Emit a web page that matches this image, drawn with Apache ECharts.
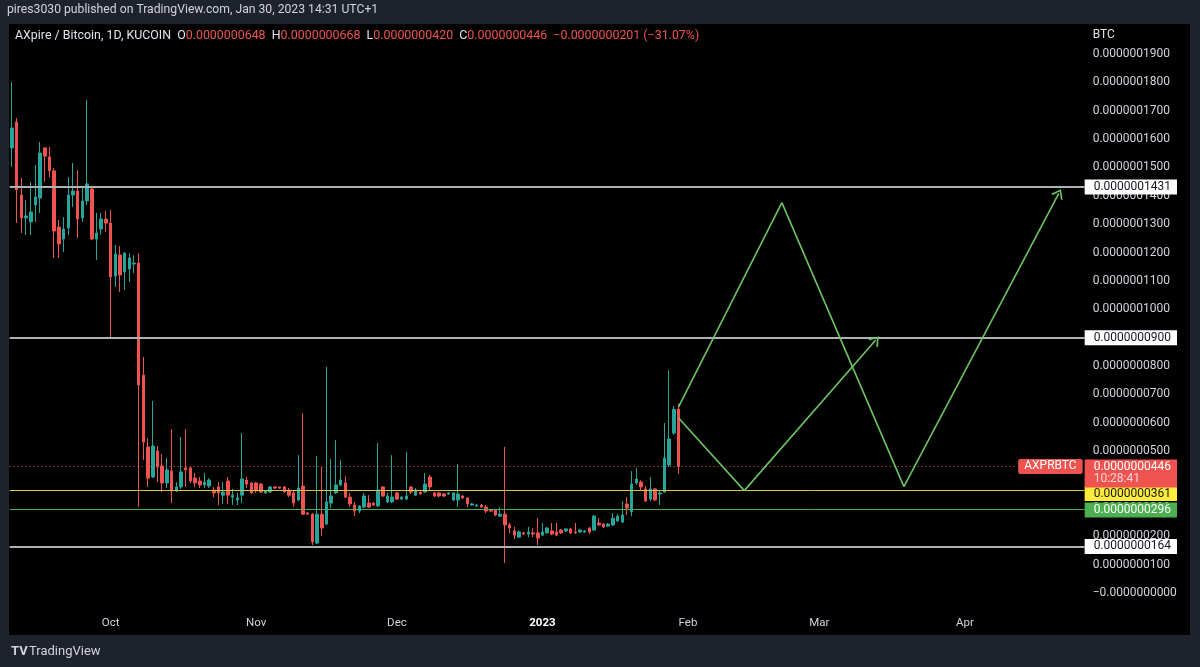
<!DOCTYPE html>
<html>
<head>
<meta charset="utf-8">
<title>AXPRBTC</title>
<script src="https://cdn.jsdelivr.net/npm/echarts@6/dist/echarts.min.js"></script>
<style>
html, body { margin: 0; padding: 0; background: #1e222b; }
#chart { width: 1200px; height: 667px; }
</style>
</head>
<body>
<div id="chart"></div>
<script>
// all prices are in units of 0.0000000001 BTC
const startDate = '2022-09-10';
const dayCount = 229; // axis runs on past the last candle to leave room for the drawings

const opens = [
  1569,1660,1403,1322,1308,1368,1392,1569,1537,1488,
  1290,1248,1287,1403,1417,1322,1382,1424,1248,1283,
  1318,1304,1117,1191,1132,1142,1160,1163,768,515,
  409,501,448,388,430,360,374,441,441,405,
  395,381,377,363,374,345,395,338,328,345,
  398,388,388,384,353,356,374,374,374,363,
  353,328,377,282,278,176,278,243,317,353,
  381,388,338,310,289,303,317,317,307,374,
  321,321,353,331,331,374,345,355,356,409,
  353,353,349,349,328,328,342,335,310,307,
  310,303,293,293,271,278,240,219,197,212,
  208,212,212,204,212,219,215,222,219,226,
  215,215,215,229,222,247,243,236,240,254,
  250,314,286,388,391,367,331,367,349,356,
  451,564,648
];
const closes = [
  1639,1421,1322,1329,1343,1396,1551,1540,1488,1276,
  1230,1283,1403,1417,1318,1382,1442,1248,1269,1318,
  1304,1114,1195,1121,1198,1181,1163,733,532,405,
  518,444,388,434,360,374,427,434,395,388,
  381,391,398,353,353,356,345,345,335,402,
  384,353,360,356,360,374,370,370,356,345,
  317,370,278,278,180,278,229,321,342,381,
  398,338,314,289,307,342,303,310,363,342,
  342,338,331,338,342,356,363,350,384,374,
  342,342,342,353,353,349,335,314,314,310,
  303,289,289,275,278,240,229,204,215,208,
  215,208,194,215,229,208,204,212,226,212,
  212,222,219,215,271,240,233,243,264,271,
  275,300,384,402,374,324,367,328,353,476,
  543,647,446
];
const lows = [
  1502,1304,1269,1262,1262,1308,1340,1449,1466,1181,
  1181,1202,1262,1361,1251,1308,1368,1244,1174,1262,
  1273,902,1079,1061,1068,1096,1128,303,469,374,
  405,391,356,370,317,356,367,374,388,374,
  370,370,370,338,310,314,314,310,310,317,
  370,349,353,353,349,353,367,367,353,338,
  303,324,275,275,169,173,201,240,300,349,
  377,335,303,271,282,300,300,307,303,338,
  317,317,328,328,328,349,342,346,353,360,
  338,338,338,346,324,303,331,303,307,303,
  300,282,285,271,268,106,212,190,195,204,
  197,197,169,201,210,204,201,208,215,208,
  208,212,212,208,219,236,229,233,236,250,
  247,275,271,381,363,321,324,324,310,353,
  444,557,420
];
const highs = [
  1801,1674,1463,1385,1449,1509,1590,1572,1572,1498,
  1315,1325,1466,1516,1491,1428,1738,1431,1340,1340,
  1347,1350,1227,1223,1202,1198,1191,1198,832,546,
  677,518,490,476,578,391,550,578,444,423,
  409,423,405,374,391,391,409,367,353,564,
  409,391,391,388,363,377,377,374,377,370,
  363,486,634,285,282,483,444,797,472,539,
  469,412,353,321,310,353,345,321,529,377,
  353,486,356,342,497,377,370,358,423,416,
  356,356,353,356,356,455,345,338,317,314,
  314,310,296,296,303,515,247,233,222,215,
  233,229,264,247,233,247,247,226,229,229,
  247,226,222,233,275,264,247,247,282,278,
  324,338,430,441,398,377,409,370,363,599,
  786,659,668
];

const tickDates = ['2022-10-01', '2022-11-01', '2022-12-01', '2023-01-01', '2023-02-01', '2023-03-01', '2023-04-01'];
const tickLabels = ['Oct', 'Nov', 'Dec', '2023', 'Feb', 'Mar', 'Apr'];

// horizontal levels drawn on the chart
const whiteLevels = [1431, 900, 164];
const yellowLevel = 361;
const greenLevel = 296;

// the two projected paths (green arrows)
const pathADates = ['2023-01-30', '2023-02-21', '2023-03-19', '2023-04-21'];
const pathAValues = [656, 1376, 375, 1409];
const pathBDates = ['2023-01-30', '2023-02-13', '2023-03-13'];
const pathBValues = [617, 361, 892];

const FONT = 'Roboto, sans-serif';
const UP = '#26a69a', DOWN = '#ef5350';

const categories = [];
for (let i = 0; i < dayCount; i++) {
  const p = startDate.split('-').map(Number);
  categories.push(new Date(Date.UTC(p[0], p[1] - 1, p[2] + i)).toISOString().slice(0, 10));
}

function fmt(v) {
  if (v === 0) return '\u22120.0000000000';
  return (v / 1e10).toFixed(10).replace('-', '\u2212');
}

const candles = opens.map((o, i) => [o, closes[i], lows[i], highs[i]]);
const n = opens.length;
const lastO = opens[n - 1], lastC = closes[n - 1], lastH = highs[n - 1], lastL = lows[n - 1];
const change = lastC - closes[n - 2];
const pct = (change / closes[n - 2] * 100).toFixed(2).replace('-', '\u2212');

const ohlcText = '{w|AXpire / Bitcoin, 1D, KUCOIN}  ' +
  '{w|O}{r|' + fmt(lastO) + '}  {w|H}{r|' + fmt(lastH) + '}  ' +
  '{w|L}{r|' + fmt(lastL) + '}  {w|C}{r|' + fmt(lastC) + '}  ' +
  '{r|' + fmt(change) + ' (' + pct + '%)}';

function levelLine(value, lineColor, width, boxColor, textColor, dy) {
  return {
    yAxis: value,
    lineStyle: { color: lineColor, width: width, type: 'solid' },
    label: {
      show: true, position: 'end', distance: 0,
      formatter: fmt(value),
      backgroundColor: boxColor, color: textColor,
      fontFamily: FONT, fontSize: 12, lineHeight: 13,
      padding: [1, 6, 1, 9], offset: [0, dy]
    }
  };
}

const green = '#6cc462';
const arrowPath = 'path://M0,9.5 L5,0 L10,9.5 L8.6,10 L5,2.8 L1.4,10 Z';
function pathSegments(dates, values) {
  const segs = [];
  for (let i = 0; i < dates.length - 1; i++) {
    const last = i === dates.length - 2;
    segs.push([
      { coord: [categories.indexOf(dates[i]), values[i]], symbol: 'none' },
      { coord: [categories.indexOf(dates[i + 1]), values[i + 1]],
        symbol: last ? arrowPath : 'none', symbolSize: [13, 9] }
    ]);
  }
  return segs;
}

const markData = [];
whiteLevels.forEach(v => markData.push(levelLine(v, '#aeb1b6', 2, '#ffffff', '#131722', 0)));
markData.push(levelLine(yellowLevel, '#d8c63c', 1, '#ffeb3b', '#131722', 3));
markData.push(levelLine(greenLevel, '#4caf50', 1, '#4caf50', '#ffffff', 1));
markData.push({
  yAxis: lastC,
  lineStyle: { color: DOWN, width: 1, type: [1, 3] },
  label: {
    show: true, position: 'end', distance: 0,
    formatter: fmt(lastC) + '\n{t|10:28:41}',
    backgroundColor: DOWN, color: '#ffffff',
    fontFamily: FONT, fontSize: 12, lineHeight: 12,
    padding: [2, 6, 2, 9], verticalAlign: 'top', offset: [0, -7],
    rich: { t: { color: 'rgba(255,255,255,0.78)', fontFamily: FONT, fontSize: 12, lineHeight: 12 } }
  }
});
markData.push({
  yAxis: lastC,
  lineStyle: { color: 'rgba(0,0,0,0)', width: 0 },
  label: {
    show: true, position: 'insideEnd', distance: 2,
    formatter: 'AXPRBTC',
    backgroundColor: DOWN, color: '#ffffff', borderRadius: 2,
    fontFamily: FONT, fontSize: 12, lineHeight: 13, padding: [1, 6, 1, 6]
  }
});
const drawData = pathSegments(pathADates, pathAValues).concat(pathSegments(pathBDates, pathBValues));
drawData.forEach(seg => {
  seg[0].lineStyle = { color: green, width: 1.6, type: 'solid' };
  seg[0].label = { show: false };
});

const chart = echarts.init(document.getElementById('chart'), null, { renderer: 'canvas' });
chart.setOption({
  animation: false,
  backgroundColor: '#1e222b',
  textStyle: { fontFamily: FONT },
  title: [
    {
      text: 'pires3030 published on TradingView.com, Jan 30, 2023 14:31 UTC+1',
      left: 7, top: 4, padding: 0,
      textStyle: { color: '#d1d4dc', fontSize: 12.2, fontWeight: 'normal', fontFamily: FONT }
    },
    {
      text: ohlcText, left: 15, top: 30, padding: 0,
      textStyle: {
        color: '#d1d4dc', fontSize: 12.4, fontWeight: 'normal', fontFamily: FONT,
        rich: {
          w: { color: '#e0e3eb', fontSize: 12.4, fontFamily: FONT },
          r: { color: lastC >= lastO ? UP : DOWN, fontSize: 12.4, fontFamily: FONT }
        }
      }
    }
  ],
  graphic: [
    { type: 'rect', z: -10, silent: true, shape: { x: 9, y: 24, width: 1181, height: 611 }, style: { fill: '#000000' } },
    { type: 'text', left: 11, top: 645, silent: true,
      style: { text: 'TV', fill: '#d1d4dc', font: 'bold 13px ' + FONT } },
    { type: 'text', left: 29, top: 645, silent: true,
      style: { text: 'TradingView', fill: '#d1d4dc', font: '13px ' + FONT } }
  ],
  grid: { left: 9.65, top: 25.6, width: 1075, height: 595.8, containLabel: false },
  xAxis: {
    type: 'category',
    data: categories,
    boundaryGap: true,
    axisLine: { show: false },
    axisTick: { show: false },
    splitLine: { show: false },
    axisLabel: {
      interval: (idx, val) => tickDates.indexOf(val) >= 0,
      formatter: val => {
        const k = tickDates.indexOf(val);
        return k === 3 ? '{b|' + tickLabels[k] + '}' : tickLabels[k];
      },
      color: '#d1d4dc', fontSize: 11.5, fontFamily: FONT,
      verticalAlign: 'middle', margin: 2,
      rich: { b: { color: '#ffffff', fontWeight: 'bold', fontSize: 11.5, fontFamily: FONT } }
    }
  },
  yAxis: {
    type: 'value',
    position: 'right',
    min: -100, max: 2000, interval: 100,
    name: 'BTC', nameLocation: 'end', nameGap: -9.5,
    nameTextStyle: { color: '#e0e3eb', fontSize: 12, fontFamily: FONT, align: 'left', verticalAlign: 'middle', padding: [0, 0, 0, 8] },
    axisLine: { show: false },
    axisTick: { show: false },
    splitLine: { show: false },
    axisLabel: {
      margin: 8, showMinLabel: false, showMaxLabel: false,
      color: '#d1d4dc', fontSize: 12, fontFamily: FONT,
      formatter: fmt
    }
  },
  series: [
    {
      type: 'candlestick',
      name: 'AXPRBTC',
      data: candles,
      barWidth: 3,
      itemStyle: { color: UP, color0: DOWN, borderColor: UP, borderColor0: DOWN, borderWidth: 1 },
      markLine: {
        silent: true,
        symbol: 'none',
        animation: false,
        data: markData.concat(drawData)
      }
    }
  ]
});
</script>
</body>
</html>
